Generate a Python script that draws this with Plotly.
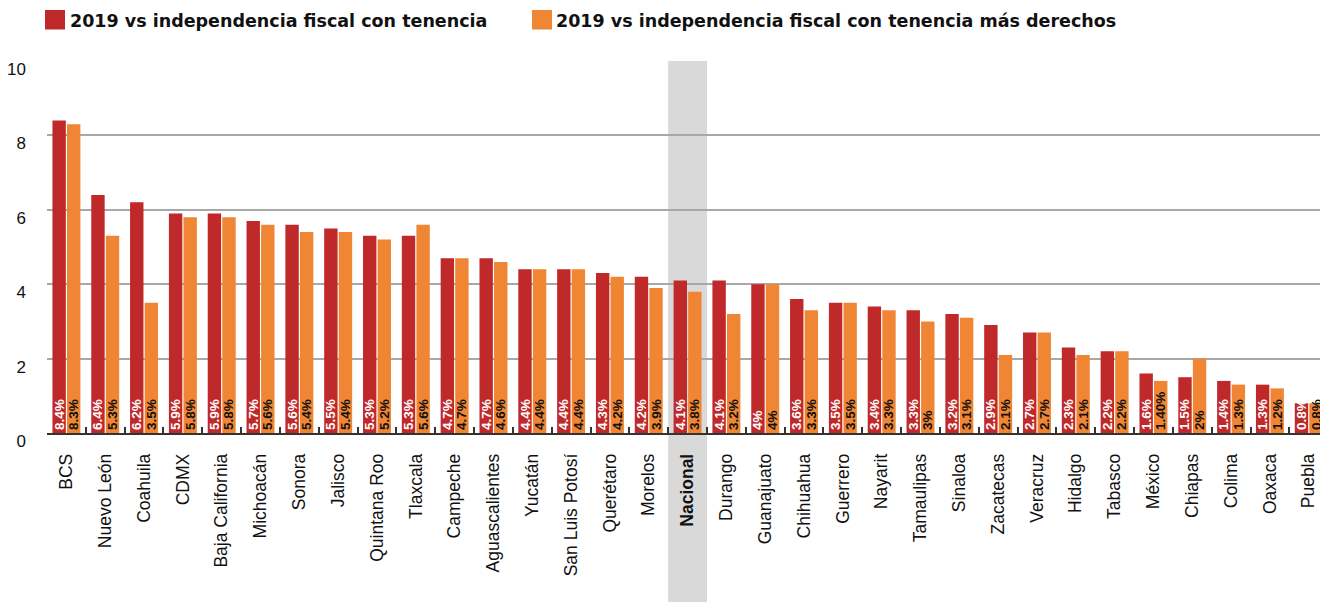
import plotly.graph_objects as go

# Estados ordenados por independencia fiscal (con tenencia)
estados = [
    "BCS", "Nuevo León", "Coahuila", "CDMX", "Baja California", "Michoacán",
    "Sonora", "Jalisco", "Quintana Roo", "Tlaxcala", "Campeche", "Aguascalientes",
    "Yucatán", "San Luis Potosí", "Querétaro", "Morelos", "Nacional", "Durango",
    "Guanajuato", "Chihuahua", "Guerrero", "Nayarit", "Tamaulipas", "Sinaloa",
    "Zacatecas", "Veracruz", "Hidalgo", "Tabasco", "México", "Chiapas", "Colima",
    "Oaxaca", "Puebla",
]

con_tenencia = [
    8.4, 6.4, 6.2, 5.9, 5.9, 5.7, 5.6, 5.5, 5.3, 5.3, 4.7, 4.7, 4.4, 4.4, 4.3,
    4.2, 4.1, 4.1, 4.0, 3.6, 3.5, 3.4, 3.3, 3.2, 2.9, 2.7, 2.3, 2.2, 1.6, 1.5,
    1.4, 1.3, 0.8,
]
con_tenencia_txt = [
    "8.4%", "6.4%", "6.2%", "5.9%", "5.9%", "5.7%", "5.6%", "5.5%", "5.3%", "5.3%",
    "4.7%", "4.7%", "4.4%", "4.4%", "4.3%", "4.2%", "4.1%", "4.1%", "4%", "3.6%",
    "3.5%", "3.4%", "3.3%", "3.2%", "2.9%", "2.7%", "2.3%", "2.2%", "1.6%", "1.5%",
    "1.4%", "1.3%", "0.8%",
]

mas_derechos = [
    8.3, 5.3, 3.5, 5.8, 5.8, 5.6, 5.4, 5.4, 5.2, 5.6, 4.7, 4.6, 4.4, 4.4, 4.2,
    3.9, 3.8, 3.2, 4.0, 3.3, 3.5, 3.3, 3.0, 3.1, 2.1, 2.7, 2.1, 2.2, 1.40, 2.0,
    1.3, 1.2, 0.8,
]
mas_derechos_txt = [
    "8.3%", "5.3%", "3.5%", "5.8%", "5.8%", "5.6%", "5.4%", "5.4%", "5.2%", "5.6%",
    "4.7%", "4.6%", "4.4%", "4.4%", "4.2%", "3.9%", "3.8%", "3.2%", "4%", "3.3%",
    "3.5%", "3.3%", "3%", "3.1%", "2.1%", "2.7%", "2.1%", "2.2%", "1.40%", "2%",
    "1.3%", "1.2%", "0.8%",
]

series_nombres = [
    "2019 vs independencia fiscal con tenencia",
    "2019 vs independencia fiscal con tenencia más derechos",
]

y_ticks = [0, 2, 4, 6, 8, 10]

ROJO = "#c0292a"
NARANJA = "#f08533"

W, H = 1320, 602
M_L, M_R, M_T, M_B = 47, 0, 61, 169
PLOT_W = W - M_L - M_R
PLOT_H = H - M_T - M_B


def px_x(px):
    """Pixel horizontal -> coordenada paper."""
    return (px - M_L) / PLOT_W


def px_y(py):
    """Pixel vertical (desde arriba) -> coordenada paper."""
    return (H - M_B - py) / PLOT_H


etiquetas = [f"<b>{e}</b>" if e == "Nacional" else e for e in estados]

TXT_SIZE = 13.5

fig = go.Figure()
fig.add_trace(go.Bar(
    x=estados, y=con_tenencia, name=series_nombres[0],
    marker=dict(color=ROJO, line=dict(width=0)),
    text=con_tenencia_txt, textposition="inside", insidetextanchor="start",
    textangle=-90, constraintext="none",
    textfont=dict(family="Liberation Sans", size=TXT_SIZE, color="white", weight="bold"),
))
fig.add_trace(go.Bar(
    x=estados, y=mas_derechos, name=series_nombres[1],
    marker=dict(color=NARANJA, line=dict(width=0)),
    text=mas_derechos_txt, textposition="inside", insidetextanchor="start",
    textangle=-90, constraintext="none",
    textfont=dict(family="Liberation Sans", size=TXT_SIZE, color="#111111", weight="bold"),
))

# Banda gris que resalta el promedio nacional
idx_nac = estados.index("Nacional")
fig.add_shape(
    type="rect", xref="x", yref="paper",
    x0=idx_nac - 0.5, x1=idx_nac + 0.5, y0=px_y(H), y1=1.0,
    fillcolor="#d9d9d9", line=dict(width=0), layer="below",
)

# Leyenda superior: cuadro de color + texto en negrita
leyenda = [(45, 67.5, ROJO), (532, 554, NARANJA)]
for (x_cuadro, x_texto, color), nombre in zip(leyenda, series_nombres):
    fig.add_shape(
        type="rect", xref="paper", yref="paper",
        x0=px_x(x_cuadro), x1=px_x(x_cuadro + 20), y0=px_y(29.5), y1=px_y(10),
        fillcolor=color, line=dict(width=0),
    )
    fig.add_annotation(
        xref="paper", yref="paper", x=px_x(x_texto), y=px_y(21),
        xanchor="left", yanchor="middle", showarrow=False, text=nombre,
        font=dict(family="DejaVu Sans", size=17.5, color="#111111", weight="bold"),
    )

fig.update_layout(
    width=W, height=H,
    margin=dict(l=M_L, r=M_R, t=M_T, b=M_B),
    paper_bgcolor="white", plot_bgcolor="white",
    barmode="group", bargap=0.25, bargroupgap=0.08,
    uniformtext=dict(minsize=TXT_SIZE, mode="show"),
    showlegend=False,
    font=dict(family="Liberation Sans", color="#111111"),
)

fig.update_xaxes(
    type="category", categoryorder="array", categoryarray=estados,
    tickmode="array", tickvals=estados, ticktext=etiquetas,
    range=[-0.5, 32.29], tickangle=-90,
    tickfont=dict(family="Liberation Sans", size=17.5, color="#111111"),
    tickson="boundaries", ticks="inside", ticklen=6, tickwidth=1.5, tickcolor="#333333",
    showline=True, linecolor="#333333", linewidth=1.5,
    showgrid=False, ticklabelstandoff=12,
)
fig.update_yaxes(
    range=[0, 10], tickmode="array", tickvals=y_ticks,
    tickfont=dict(family="Liberation Sans", size=17, color="#111111"),
    showgrid=True, gridcolor="#a8a8a8", gridwidth=1.5,
    zeroline=False, showline=False, ticks="",
    ticklabelstandoff=20, ticklabelshift=8,
)

fig.write_html("out.html")
